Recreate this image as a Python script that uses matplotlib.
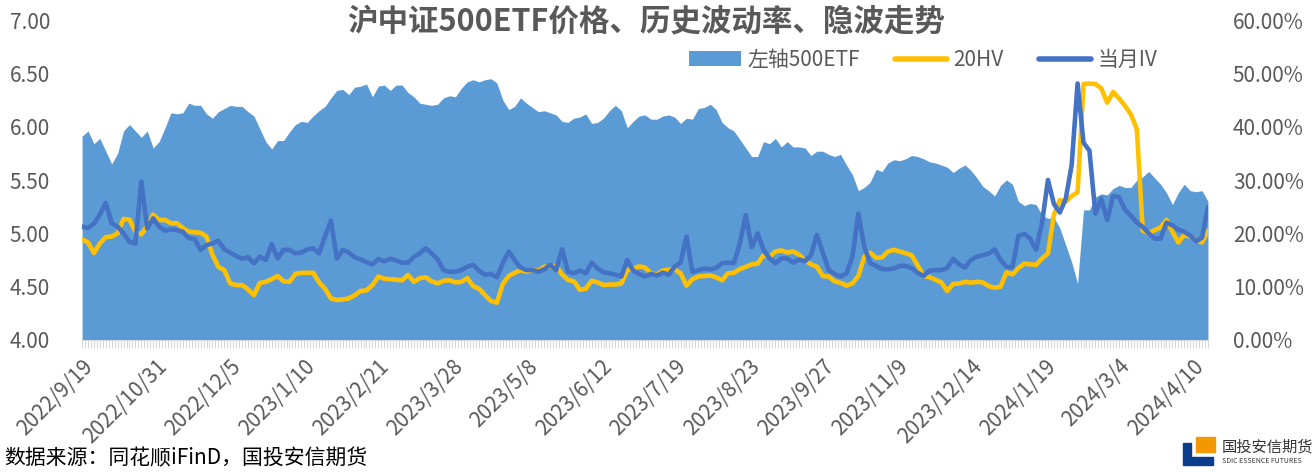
import numpy as np
import matplotlib
matplotlib.use('Agg')
import matplotlib.pyplot as plt
from matplotlib.patches import Patch, Rectangle, Polygon
from matplotlib.lines import Line2D

plt.rcParams['font.family'] = ['Noto Sans CJK SC', 'DejaVu Sans']

# trading-day index of each sample (every 2nd trading day)
day_idx = np.arange(0, 381, 2)

# 500ETF close, left axis
price_500etf = [
    5.91, 5.96, 5.84, 5.89, 5.77, 5.65, 5.75, 5.96, 6.02, 5.96,
    5.90, 5.96, 5.80, 5.86, 5.99, 6.13, 6.12, 6.13, 6.22, 6.20,
    6.20, 6.12, 6.08, 6.14, 6.17, 6.20, 6.19, 6.19, 6.14, 6.10,
    5.98, 5.86, 5.79, 5.87, 5.87, 5.95, 6.02, 6.05, 6.04, 6.10,
    6.15, 6.19, 6.27, 6.34, 6.35, 6.30, 6.37, 6.38, 6.40, 6.28,
    6.38, 6.39, 6.34, 6.39, 6.39, 6.32, 6.28, 6.22, 6.21, 6.20,
    6.21, 6.27, 6.29, 6.28, 6.36, 6.42, 6.44, 6.42, 6.44, 6.45,
    6.41, 6.25, 6.16, 6.19, 6.27, 6.22, 6.18, 6.14, 6.15, 6.13,
    6.11, 6.05, 6.04, 6.08, 6.09, 6.12, 6.03, 6.04, 6.08, 6.15,
    6.20, 6.15, 5.99, 6.05, 6.10, 6.11, 6.07, 6.07, 6.10, 6.11,
    6.09, 6.03, 6.08, 6.07, 6.17, 6.18, 6.21, 6.16, 6.04, 5.99,
    5.96, 5.88, 5.80, 5.72, 5.72, 5.86, 5.84, 5.89, 5.81, 5.86,
    5.81, 5.81, 5.80, 5.73, 5.77, 5.77, 5.74, 5.72, 5.74, 5.64,
    5.55, 5.40, 5.43, 5.48, 5.60, 5.58, 5.66, 5.69, 5.68, 5.70,
    5.73, 5.72, 5.70, 5.67, 5.66, 5.64, 5.62, 5.57, 5.61, 5.64,
    5.59, 5.52, 5.44, 5.40, 5.35, 5.45, 5.50, 5.46, 5.30, 5.26,
    5.28, 5.27, 5.17, 5.14, 5.15, 5.05, 4.89, 4.73, 4.53, 5.22,
    5.22, 5.34, 5.37, 5.36, 5.42, 5.45, 5.43, 5.43, 5.50, 5.53,
    5.58, 5.52, 5.46, 5.38, 5.27, 5.38, 5.46, 5.40, 5.39, 5.40,
    5.30,
]

# 20-day historical volatility (%), right axis
hv20 = [
    18.9, 18.3, 16.3, 18.1, 19.3, 19.4, 20.0, 22.7, 22.6, 20.3,
    19.8, 21.4, 23.5, 22.5, 22.5, 21.9, 21.9, 21.0, 20.3, 20.2,
    20.1, 19.4, 16.0, 13.7, 13.1, 10.6, 10.3, 10.3, 9.5, 8.4,
    10.7, 10.9, 11.4, 12.0, 11.0, 10.9, 12.4, 12.6, 12.6, 12.6,
    10.8, 9.6, 7.8, 7.5, 7.6, 7.8, 8.4, 9.2, 9.3, 10.3,
    11.9, 11.5, 11.4, 11.3, 11.2, 12.2, 10.9, 11.6, 11.75, 11.0,
    10.6, 11.1, 11.2, 10.8, 10.9, 11.6, 10.1, 9.6, 8.4, 7.3,
    7.0, 10.5, 12.0, 12.6, 13.1, 12.8, 13.1, 13.0, 13.75, 13.75,
    13.9, 12.3, 11.25, 11.0, 9.4, 9.6, 11.1, 10.8, 10.3, 10.4,
    10.4, 10.6, 13.1, 13.4, 13.8, 13.6, 12.5, 12.3, 13.0, 13.2,
    13.25, 12.5, 10.2, 11.4, 11.9, 12.0, 12.1, 11.75, 11.2, 12.5,
    12.6, 13.3, 13.7, 14.2, 14.3, 15.9, 15.6, 16.6, 16.8, 16.4,
    16.6, 16.0, 14.9, 14.2, 13.75, 12.0, 11.9, 11.0, 10.7, 10.2,
    10.6, 12.0, 15.6, 16.4, 15.4, 15.5, 16.6, 16.9, 16.6, 16.25,
    15.9, 14.0, 12.0, 11.8, 11.3, 10.8, 9.2, 10.5, 10.6, 10.9,
    10.75, 10.9, 10.8, 10.1, 9.8, 10.0, 12.7, 12.3, 13.5, 14.3,
    14.2, 14.1, 15.3, 16.2, 23.5, 26.25, 25.9, 27.0, 27.7, 48.0,
    48.1, 48.0, 47.2, 44.5, 46.5, 45.3, 43.9, 42.3, 39.5, 20.5,
    20.0, 20.6, 21.1, 22.5, 20.3, 18.3, 19.7, 19.4, 18.75, 18.3,
    20.5,
]

# front-month implied volatility (%), right axis
iv_month = [
    21.25, 21.0, 21.8, 23.5, 25.7, 21.9, 21.25, 20.0, 18.4, 18.1,
    29.7, 20.9, 22.8, 21.25, 20.5, 20.75, 20.6, 20.3, 19.1, 18.9,
    16.9, 17.8, 18.1, 18.6, 17.0, 16.4, 15.75, 15.25, 15.5, 14.4,
    15.6, 15.0, 18.0, 15.3, 16.9, 16.9, 16.25, 16.4, 17.0, 17.2,
    16.25, 19.4, 22.4, 15.3, 16.9, 16.4, 15.5, 15.1, 14.6, 14.2,
    15.2, 14.75, 15.25, 14.9, 14.5, 14.5, 15.6, 16.25, 17.2, 16.25,
    15.1, 13.1, 12.8, 12.8, 13.1, 13.75, 14.1, 13.0, 12.2, 12.4,
    11.75, 14.4, 16.6, 15.0, 13.6, 13.1, 13.1, 12.8, 13.25, 14.1,
    13.1, 17.0, 12.8, 12.5, 13.0, 12.5, 14.5, 13.4, 12.7, 12.5,
    12.25, 11.9, 15.0, 13.0, 12.4, 11.9, 12.4, 12.1, 12.6, 12.25,
    13.75, 14.5, 19.4, 12.75, 13.1, 13.4, 13.25, 13.5, 14.4, 14.5,
    14.4, 18.1, 23.4, 17.4, 20.0, 16.9, 15.3, 14.4, 15.3, 15.3,
    14.5, 15.1, 14.75, 15.9, 19.7, 16.4, 13.1, 12.4, 11.9, 12.5,
    15.6, 23.7, 17.5, 14.4, 13.9, 13.3, 13.25, 13.4, 13.9, 13.9,
    13.5, 12.6, 12.0, 13.0, 13.1, 13.1, 13.5, 15.2, 14.2, 13.6,
    15.0, 15.6, 15.9, 16.2, 17.0, 15.0, 13.75, 13.6, 19.5, 19.9,
    19.0, 16.9, 22.0, 30.0, 25.5, 23.9, 26.5, 32.8, 48.1, 37.0,
    35.5, 23.7, 26.5, 22.5, 27.0, 26.8, 24.4, 23.3, 22.0, 21.2,
    20.0, 19.0, 19.0, 22.0, 21.5, 20.7, 20.3, 19.6, 18.5, 19.2,
    25.0,
]

tick_dates = ['2022/9/19', '2022/10/31', '2022/12/5', '2023/1/10', '2023/2/21',
              '2023/3/28', '2023/5/8', '2023/6/12', '2023/7/19', '2023/8/23',
              '2023/9/27', '2023/11/9', '2023/12/14', '2024/1/19', '2024/3/4',
              '2024/4/10']
tick_step = 25
n_days = 381

c_area = '#5B9BD5'
c_hv = '#FFC000'
c_iv = '#4472C4'
c_txt = '#595959'

fig = plt.figure(figsize=(13.13, 4.73), dpi=100)
ax = fig.add_axes([0.0625, 0.2812, 0.8575, 0.6765])
ax2 = ax.twinx()

ax.fill_between(day_idx, price_500etf, 4.0, color=c_area, lw=0, zorder=1)
ax2.plot(day_idx, hv20, color=c_hv, lw=3.3, solid_joinstyle='round', solid_capstyle='round')
ax2.plot(day_idx, iv_month, color=c_iv, lw=3.3, solid_joinstyle='round', solid_capstyle='round')

ax.set_xlim(0, n_days - 1)
ax.set_ylim(4.0, 7.0)
ax2.set_ylim(0, 60)
ax.set_yticks(np.arange(4.0, 7.01, 0.5))
ax.set_yticklabels(['%.2f' % v for v in np.arange(4.0, 7.01, 0.5)])
ax2.set_yticks(np.arange(0, 61, 10))
ax2.set_yticklabels(['%.2f%%' % v for v in np.arange(0, 61, 10)])

ax.set_xticks(np.arange(len(tick_dates)) * tick_step)
ax.set_xticklabels(tick_dates, rotation=45, ha='right', va='top', rotation_mode='anchor')
ax.set_xticks(np.arange(n_days), minor=True)

for a in (ax, ax2):
    for s in a.spines.values():
        s.set_visible(False)
ax.spines['bottom'].set_visible(True)
ax.spines['bottom'].set_color('#D9D9D9')

ax.tick_params(axis='x', which='both', length=6, width=0.8, color='#D9D9D9',
               labelsize=15, labelcolor=c_txt, pad=5)
ax.tick_params(axis='y', length=0, labelsize=15, labelcolor=c_txt, pad=23)
ax2.tick_params(axis='y', length=0, labelsize=15, labelcolor=c_txt, pad=18)

fig.text(0.492, 0.955, '沪中证500ETF价格、历史波动率、隐波走势', ha='center', va='center',
         fontsize=22, fontweight='bold', color=c_txt)

handles = [Patch(facecolor=c_area, edgecolor='none'),
           Line2D([], [], color=c_hv, lw=4, solid_capstyle='round'),
           Line2D([], [], color=c_iv, lw=4, solid_capstyle='round')]
leg = fig.legend(handles, ['左轴500ETF', '20HV', '当月IV'], loc='center',
                 bbox_to_anchor=(0.703, 0.873), ncol=3, frameon=False, fontsize=15,
                 handlelength=2.5, handleheight=0.75, handletextpad=0.3, columnspacing=1.7)
for t in leg.get_texts():
    t.set_color(c_txt)

fig.text(0.003, 0.03, '数据来源：同花顺iFinD，国投安信期货', ha='left', va='center',
         fontsize=15, color='black')

# company logo, bottom right
fig.patches.append(Rectangle((1196 / 1313, 1 - 452 / 473), 19 / 1313, 15 / 473,
                             transform=fig.transFigure, color='#F39800'))
fig.patches.append(Polygon([(1183 / 1313, 1 - 443 / 473), (1191 / 1313, 1 - 443 / 473),
                            (1191 / 1313, 1 - 457 / 473), (1213 / 1313, 1 - 457 / 473),
                            (1213 / 1313, 1 - 465 / 473), (1183 / 1313, 1 - 465 / 473)],
                           closed=True, transform=fig.transFigure, color='#0A3C8C'))
fig.text(1222 / 1313, 1 - 447 / 473, '国投安信期货', ha='left', va='center', fontsize=11, color='#333333')
fig.text(1222 / 1313, 1 - 461 / 473, 'SDIC ESSENCE FUTURES', ha='left', va='center',
         fontsize=5, color='#333333')

fig.savefig('out.png', dpi=100, facecolor='white')
